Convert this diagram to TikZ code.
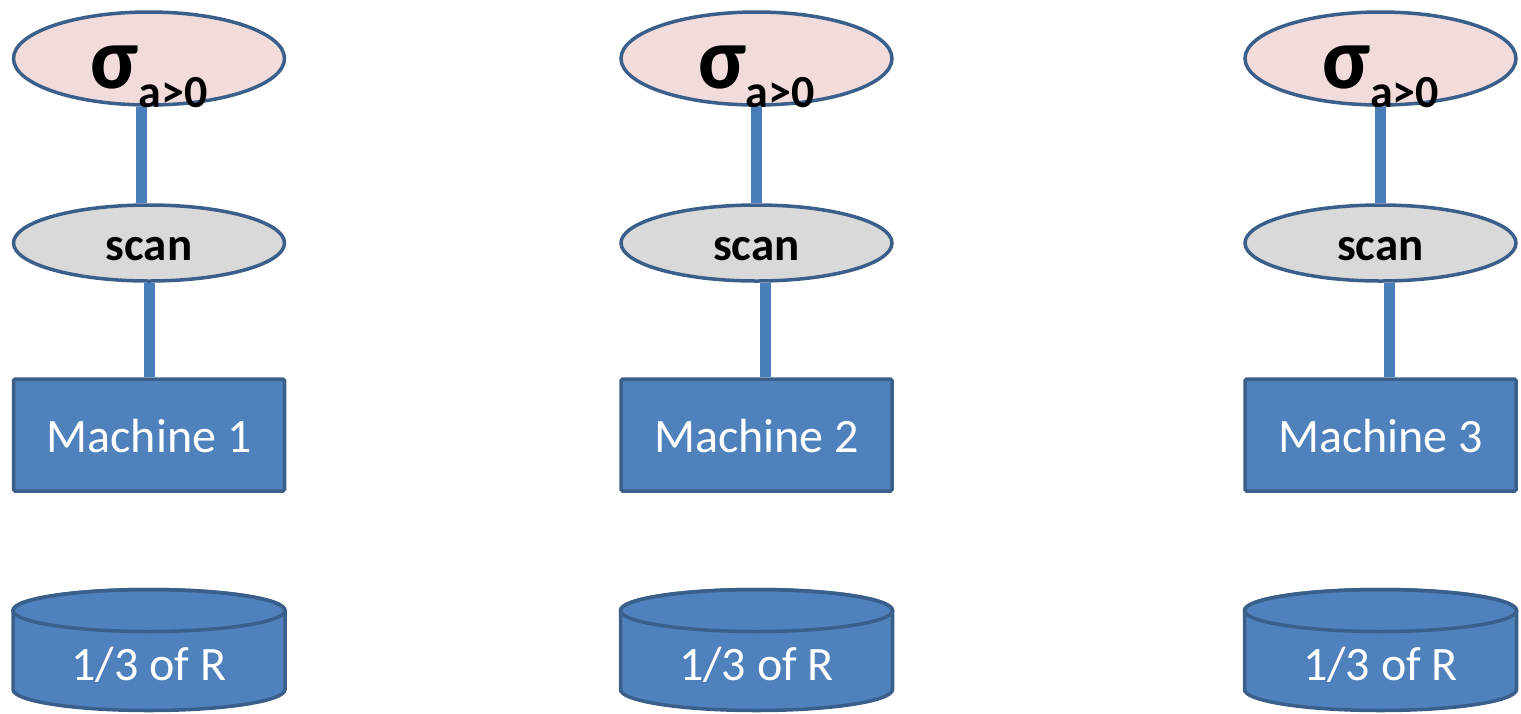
\documentclass[tikz,border=0pt]{standalone}
\usepackage{fontspec}
\setmainfont{Carlito}
\usetikzlibrary{shapes.geometric}
\definecolor{edgeblue}{HTML}{3A5F8B}
\definecolor{fillblue}{HTML}{4F81BD}
\definecolor{linkblue}{HTML}{4A7EBB}
\definecolor{pinkfill}{HTML}{F2DCDB}
\definecolor{grayfill}{HTML}{D9D9D9}
\tikzset{
  sigmabox/.style={ellipse, draw=edgeblue, line width=3.5pt, fill=pinkfill,
    minimum width=271pt, minimum height=93pt, inner sep=0pt},
  sigmatext/.style={anchor=base, inner sep=0pt, text=black,
    font=\fontsize{88}{88}\selectfont\bfseries},
  scanbox/.style={ellipse, draw=edgeblue, line width=3.5pt, fill=grayfill,
    minimum width=271pt, minimum height=76pt, inner sep=0pt,
    text height=34pt, text depth=0pt,
    font=\fontsize{47}{47}\selectfont\bfseries},
  machinebox/.style={rectangle, draw=edgeblue, line width=3.5pt, fill=fillblue,
    rounded corners=1.5pt, minimum width=271pt, minimum height=112pt, inner sep=0pt,
    text=white, text height=34pt, text depth=0pt,
    font=\fontsize{48}{48}\selectfont},
  cyltext/.style={inner sep=0pt, text=white, text height=34pt, text depth=0pt,
    font=\fontsize{48}{48}\selectfont},
  cylbody/.style={draw=edgeblue, line width=3.5pt, fill=fillblue},
  link/.style={draw=linkblue, line width=11pt},
}
\begin{document}
\begin{tikzpicture}[x=1pt, y=-1pt]
\useasboundingbox (0,0) rectangle (1521,713);
\foreach \i/\x/\ux/\lx in {1/149/-8/0, 2/756.5/0/8.5, 3/1380.5/0/8.5}{
  % cylinder (partition of R)
  \path[cylbody] (\x-136,610.5) -- (\x-136,689.5)
    arc[start angle=180, end angle=0, x radius=136, y radius=21]
    -- (\x+136,610.5)
    arc[start angle=0, end angle=-180, x radius=136, y radius=21] -- cycle;
  \draw[edgeblue, line width=3.5pt] (\x,610.5) ellipse[x radius=136, y radius=21];
  \node[cyltext] (c\i) at (\x,663) {1/3 of R};
  % machine
  \node[machinebox] (m\i) at (\x,435) {Machine \i};
  % scan
  \node[scanbox] (sc\i) at (\x,243) {scan};
  % selection
  \node[sigmabox] (s\i) at (\x,58.5) {};
  \node[sigmatext] (t\i) at (\x,88) {σ\raisebox{-19pt}{\fontsize{46}{46}\selectfont a>0}};
  % connectors
  \path[link] ([xshift=\ux pt]s\i.south) -- ([xshift=\ux pt]sc\i.north);
  \path[link] ([xshift=\lx pt]sc\i.south) -- ([xshift=\lx pt]m\i.north);
}
\end{tikzpicture}
\end{document}
